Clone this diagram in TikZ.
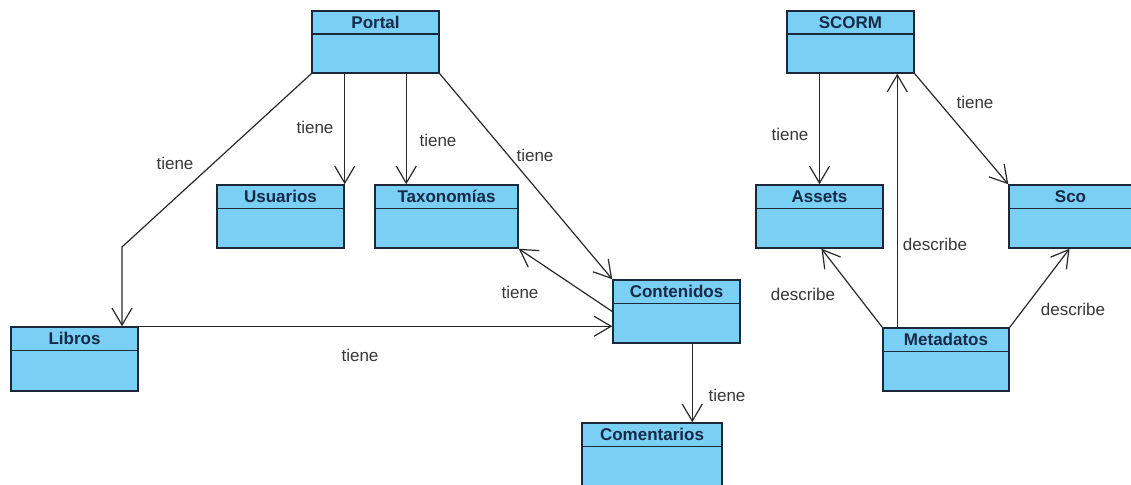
\documentclass[tikz,border=0pt]{standalone}
\usepackage{fontspec}
\setmainfont{Liberation Sans}
\usetikzlibrary{arrows.meta}
\definecolor{clsfill}{RGB}{122,207,245}
\definecolor{clsborder}{RGB}{28,40,58}
\definecolor{clstext}{RGB}{22,42,72}
\definecolor{lbltext}{RGB}{55,55,55}
\definecolor{linecol}{RGB}{40,40,40}
\tikzset{
  cls/.style={draw=clsborder, fill=clsfill, line width=1.5pt, inner sep=0pt, rectangle},
  clsline/.style={draw=clsborder, line width=1.5pt},
  clstitle/.style={text=clstext, font=\fontsize{17}{20}\selectfont\bfseries, inner sep=0pt},
  lbl/.style={text=lbltext, font=\fontsize{17}{20}\selectfont, inner sep=0pt},
  assoc/.style={draw=linecol, line width=1.2pt, -{Straight Barb[length=17pt,width=20pt,line width=1.2pt]}},
}
% UML class box: name, left, top, right, bottom, title
\newcommand\umlclass[6]{%
  \node[cls, minimum width=#4pt-#2pt, minimum height=#5pt-#3pt] (#1) at ({(#2+#4)/2},{(#3+#5)/2}) {};
  \draw[clsline] ([yshift=-24pt]#1.north west) -- ([yshift=-24pt]#1.north east);
  \node[clstitle] (#1-title) at ([yshift=-12pt]#1.north) {#6};
}
\begin{document}
\begin{tikzpicture}[x=1pt,y=-1pt]
\useasboundingbox (0,0) rectangle (1131,484);
\begin{scope}
\clip (0,0) rectangle (1131,484);

% classes
\umlclass{portal}{312}{11}{439}{73}{Portal}
\umlclass{usuarios}{217}{185}{344}{248}{Usuarios}
\umlclass{taxonomias}{375}{185}{518}{248}{Taxonomías}
\umlclass{contenidos}{613}{280}{740}{343}{Contenidos}
\umlclass{libros}{11}{327}{138}{391}{Libros}
\umlclass{comentarios}{582}{423}{722}{488}{Comentarios}
\umlclass{scorm}{787}{11}{914}{73}{SCORM}
\umlclass{assets}{756}{185}{883}{248}{Assets}
\umlclass{sco}{1009}{185}{1132}{248}{Sco}
\umlclass{metadatos}{883}{328}{1009}{391}{Metadatos}

% associations of the portal
\coordinate (lbend) at (122,247);
\draw[assoc] (portal.south west) -- (lbend) -- (lbend |- libros.north);
\draw[assoc] (portal.south -| usuarios.north east) -- (usuarios.north east);
\draw[assoc] ([xshift=32pt]taxonomias.north west |- portal.south) -- ([xshift=32pt]taxonomias.north west);
\draw[assoc] (portal.south east) -- (contenidos.north west);
\draw[assoc] (contenidos.west) -- (taxonomias.south east);
\draw[assoc] (libros.north east) -- (contenidos.west |- libros.north);
\draw[assoc] ([xshift=80pt]contenidos.south west) -- ([xshift=80pt]contenidos.south west |- comentarios.north);

% associations of SCORM
\draw[assoc] (scorm.south -| assets.north) -- (assets.north);
\draw[assoc] (scorm.south east) -- (sco.north west);
\draw[assoc] ([xshift=15pt]metadatos.north west) -- ([xshift=15pt]metadatos.north west |- scorm.south);
\draw[assoc] (metadatos.north west) -- ([xshift=2pt]assets.south);
\draw[assoc] (metadatos.north east) -- ([xshift=-1pt]sco.south);
\end{scope}

% association labels
\node[lbl] (l1) at (175,163) {tiene};
\node[lbl] (l2) at (315,127) {tiene};
\node[lbl] (l3) at (438,140) {tiene};
\node[lbl] (l4) at (535,155) {tiene};
\node[lbl] (l5) at (520,292) {tiene};
\node[lbl] (l6) at (360,355) {tiene};
\node[lbl] (l7) at (727,395) {tiene};
\node[lbl] (l8) at (790,134) {tiene};
\node[lbl] (l9) at (975,102) {tiene};
\node[lbl] (l10) at (935,244) {describe};
\node[lbl] (l11) at (803,294) {describe};
\node[lbl] (l12) at (1073,309) {describe};
\end{tikzpicture}
\end{document}
